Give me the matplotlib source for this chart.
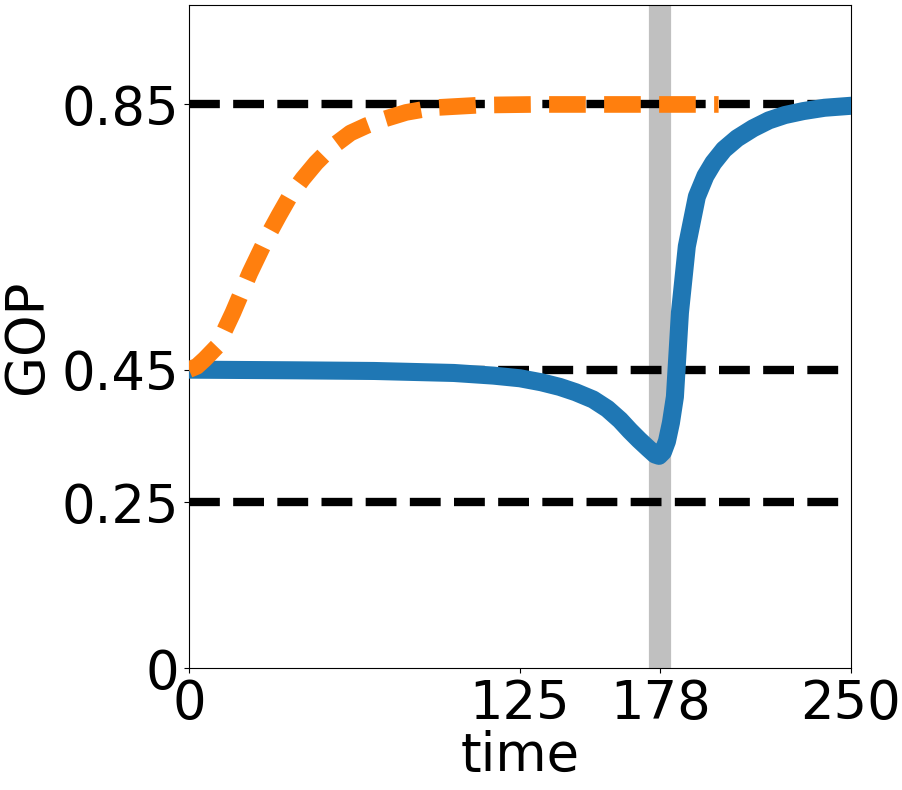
import matplotlib
matplotlib.use("Agg")
import matplotlib.pyplot as plt

# reference levels
levels = [0.85, 0.45, 0.25]

# switch time (gray band)
t_switch = 178

# orange trajectory
t_orange = [0, 3, 6, 10.6, 16.6, 23, 29.5, 34, 38, 43, 48, 54, 61, 67, 73, 82, 92,
            110, 130, 160, 200]
gop_orange = [0.45, 0.455, 0.466, 0.485, 0.536, 0.596, 0.65, 0.683, 0.711, 0.738,
              0.762, 0.786, 0.807, 0.818, 0.827, 0.838, 0.845, 0.849, 0.85, 0.85, 0.85]

# blue trajectory
t_blue = [0, 40, 70, 100, 115, 125, 133, 140, 146, 152.6, 158, 162.8, 166.5, 170,
          173.5, 176, 177.5, 179, 180.5, 182, 183.5, 185.4, 188, 191.8, 195, 198,
          202, 207, 213, 219, 225, 232, 240, 250]
gop_blue = [0.45, 0.449, 0.448, 0.445, 0.441, 0.437, 0.431, 0.424, 0.416, 0.405,
            0.391, 0.374, 0.358, 0.344, 0.331, 0.322, 0.32, 0.326, 0.342, 0.37,
            0.409, 0.536, 0.636, 0.711, 0.742, 0.762, 0.782, 0.799, 0.814, 0.826,
            0.834, 0.840, 0.845, 0.848]

xticks = [0, 125, 178, 250]
yticks = [0, 0.25, 0.45, 0.85]
yticklabels = ["0", "0.25", "0.45", "0.85"]

fig = plt.figure(figsize=(9.02, 7.9), dpi=100)
ax = fig.add_axes([189 / 902, 1 - 668 / 790, 662 / 902, 663 / 790])

ax.axvline(t_switch, color='silver', lw=16, zorder=1)
for lv in levels:
    ax.plot([0, 250], [lv, lv], 'k--', lw=6, zorder=2)

ax.plot(t_blue, gop_blue, color='tab:blue', lw=13, zorder=3)
ax.plot(t_orange, gop_orange, color='tab:orange', lw=12, dashes=(2.2, 1.1), zorder=4)

ax.set_xlim(0, 250)
ax.set_ylim(0, 1.0)
ax.set_xticks(xticks)
ax.set_yticks(yticks)
ax.set_yticklabels(yticklabels)
ax.tick_params(labelsize=38)
ax.set_xlabel('time', fontsize=38, labelpad=0)
ax.set_ylabel('GOP', fontsize=38, labelpad=6)

fig.savefig('out.png', dpi=100)
